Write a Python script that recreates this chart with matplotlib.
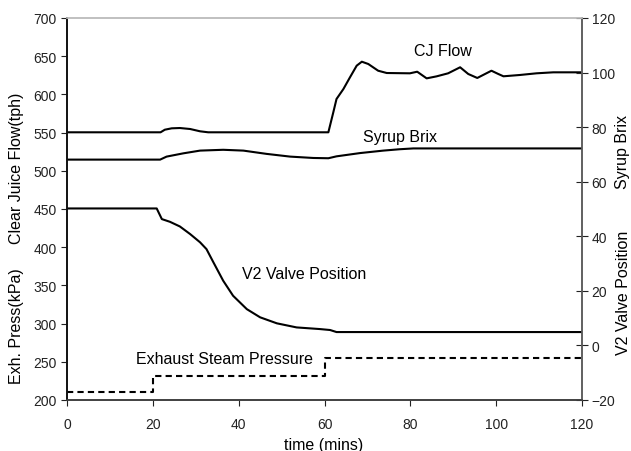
import matplotlib
matplotlib.use("Agg")
import matplotlib.pyplot as plt

# ---- data ----
cj_t = [0, 21.8, 22.8, 24.4, 26.3, 28.7, 31, 32.9, 60.9, 62.05, 62.8, 64.4, 65.9, 67.5,
        68.7, 70.2, 72.5, 74.5, 79.9, 81.6, 83.8, 86.1, 88.8, 91.6, 93.5, 95.6, 97.4,
        98.9, 100.5, 101.7, 105.5, 109.4, 113.3, 120]
cj_v = [550.4, 550.4, 553.8, 555.6, 556, 554.7, 551.7, 550.4, 550.4, 576.5, 594, 607,
        622, 637.6, 642.8, 639.8, 631, 628, 627.6, 629.7, 621, 623.6, 627.6, 635.5,
        626.7, 621.5, 626.7, 631, 626.7, 623.7, 625.4, 627.6, 628.9, 628.9]

brix_t = [0, 21.7, 23.2, 27.1, 31, 36.4, 41.1, 46.5, 52, 57.4, 60.9, 62.8, 68.3, 73.7,
          77.5, 80.7, 120]
brix_v = [68.1, 68.1, 69.2, 70.4, 71.4, 71.7, 71.4, 70.2, 69.2, 68.7, 68.6, 69.3, 70.5,
          71.4, 71.9, 72.2, 72.2]

v2_t = [0, 20.9, 22.1, 24, 26.3, 28.7, 31, 32.5, 34.1, 36.4, 38.7, 41.9, 45, 48.9,
        53.5, 58.9, 61.3, 62.8, 120]
v2_v = [50.2, 50.2, 46.3, 45.3, 43.6, 40.8, 37.8, 35.3, 30.5, 23.7, 18.2, 13.3, 10.3,
        8.1, 6.6, 6.0, 5.65, 4.9, 4.9]

exh_t = [0, 20, 20, 60, 60, 120]
exh_v = [211, 211, 232, 232, 255, 255]

x_ticks = [0, 20, 40, 60, 80, 100, 120]
left_ticks = [200, 250, 300, 350, 400, 450, 500, 550, 600, 650, 700]
right_ticks = [-20, 0, 20, 40, 60, 80, 100, 120]

plt.rcParams['font.family'] = ['Liberation Sans', 'DejaVu Sans']

fig = plt.figure(figsize=(6.31, 4.52), dpi=100)
ax = fig.add_axes([67/631, 1-401/452, (582-67)/631, (401-19)/452])
ax2 = ax.twinx()

lw = 1.5
ax.plot(cj_t, cj_v, color='black', lw=lw, solid_joinstyle='round')
ax.plot(exh_t, exh_v, color='black', lw=lw, dashes=(3, 2))
ax2.plot(brix_t, brix_v, color='black', lw=lw, solid_joinstyle='round')
ax2.plot(v2_t, v2_v, color='black', lw=lw, solid_joinstyle='round')

ax.set_xlim(0, 120)
ax.set_ylim(200, 700)
ax2.set_ylim(-20, 120)
ax.set_xticks(x_ticks)
ax.set_yticks(left_ticks)
ax2.set_yticks(right_ticks)

ax.tick_params(axis='both', labelsize=10, colors='#222222', direction='out', length=4, width=0.8)
ax.tick_params(axis='x', pad=8)
ax2.tick_params(axis='y', labelsize=10, colors='#222222', direction='inout', length=8, width=0.8, pad=3)

for a in (ax, ax2):
    a.spines['top'].set_color('#c0c0c0')
    a.spines['left'].set_color('#111111')
    a.spines['bottom'].set_color('#404040')
    a.spines['right'].set_color('#606060')
    for s in a.spines.values():
        s.set_linewidth(1.2)

fs = 11.5
ax.text(87.6, 658, 'CJ Flow', fontsize=fs, ha='center', va='center')
ax.text(77.6, 545.5, 'Syrup Brix', fontsize=fs, ha='center', va='center')
ax.text(55.3, 365, 'V2 Valve Position', fontsize=fs, ha='center', va='center')
ax.text(36.8, 254, 'Exhaust Steam Pressure', fontsize=fs, ha='center', va='center')

fig.text(324/631, 1-446/452, 'time (mins)', fontsize=fs, ha='center', va='center')
fig.text(17/631, 1-168/452, 'Clear Juice Flow(tph)', fontsize=fs, ha='center', va='center', rotation=90)
fig.text(17/631, 1-326/452, 'Exh. Press(kPa)', fontsize=fs, ha='center', va='center', rotation=90)
fig.text(623/631, 1-152/452, 'Syrup Brix', fontsize=fs, ha='center', va='center', rotation=90)
fig.text(623/631, 1-293/452, 'V2 Valve Position', fontsize=fs, ha='center', va='center', rotation=90)

fig.savefig('out.png', dpi=100)
